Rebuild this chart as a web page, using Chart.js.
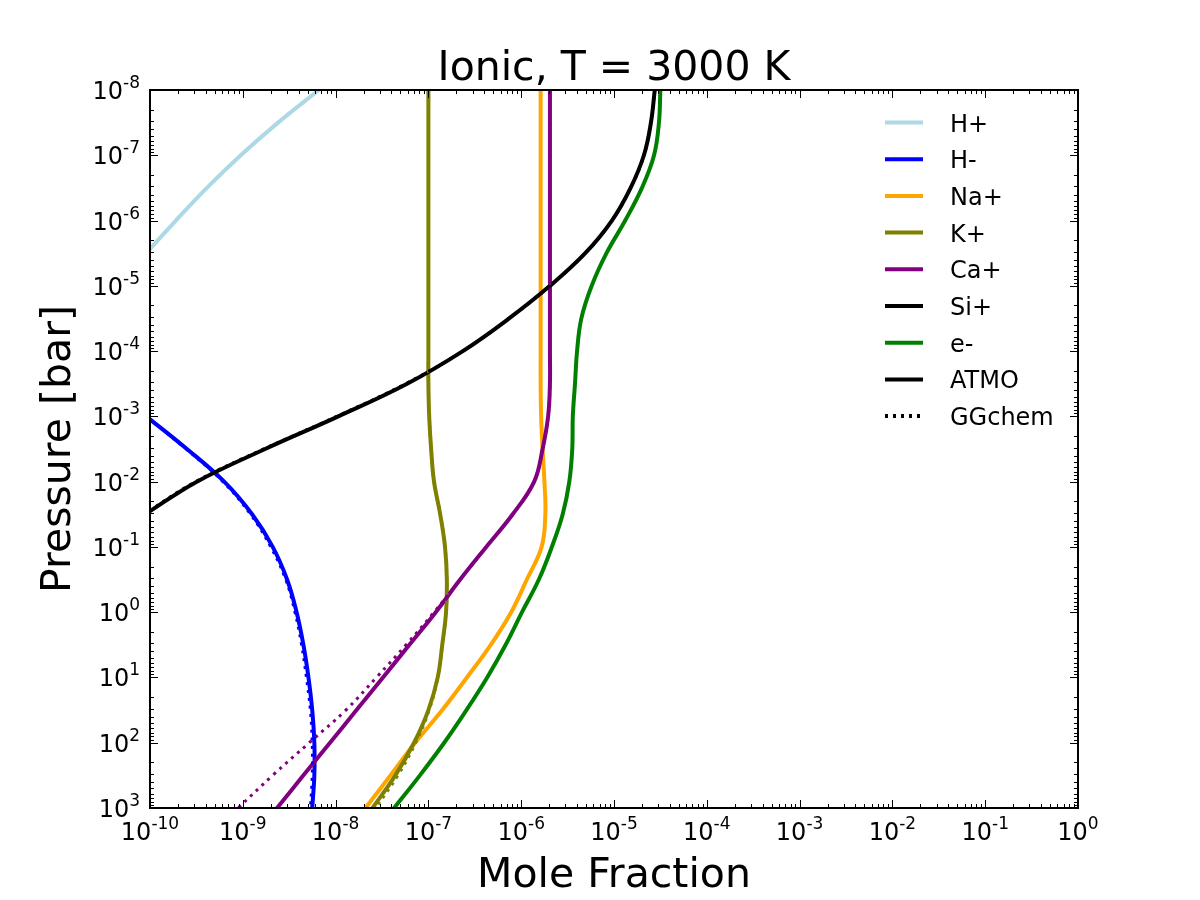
<!DOCTYPE html>
<html lang="en">
<head>
  <meta charset="UTF-8">
  <title>Ionic, T = 3000 K</title>
  <script src="https://cdn.jsdelivr.net/npm/chart.js"></script>
  <style>
    html, body { margin: 0; padding: 0; background: #fff; }
    #wrap { width: 1200px; height: 900px; }
  </style>
</head>
<body>

<div id="wrap"><canvas id="ionChart" width="1200" height="900"></canvas></div>

<script>
  // pressure levels [bar], half-decade steps from 1e-8 to 1e3
  const pressure = [1e-8, 3.16e-8, 1e-7, 3.16e-7, 1e-6, 3.16e-6, 1e-5, 3.16e-5, 1e-4, 3.16e-4,
                    1e-3, 3.16e-3, 1e-2, 3.16e-2, 1e-1, 3.16e-1, 1, 3.16, 10, 31.6, 100, 316, 1000];

  // mole fractions (ATMO, solid lines)
  const hPlus  = [6.6e-9, 2.4e-9, 9.5e-10, 4.1e-10, 1.9e-10, 9.1e-11, 4.5e-11, null, null, null,
                  null, null, null, null, null, null, null, null, null, null, null, null, null];
  const hMinus = [null, null, null, null, null, null, null, null, null, 3.2e-11,
                  9.1e-11, 2.5e-10, 6.3e-10, 1.26e-9, 2.1e-9, 3.0e-9, 3.8e-9, 4.5e-9, 5.1e-9, 5.6e-9, 5.9e-9, 5.9e-9, 5.6e-9];
  const naPlus = [1.62e-6, 1.62e-6, 1.62e-6, 1.62e-6, 1.62e-6, 1.62e-6, 1.62e-6, 1.62e-6, 1.62e-6, 1.62e-6,
                  1.64e-6, 1.70e-6, 1.78e-6, 1.82e-6, 1.66e-6, 1.15e-6, 7.8e-7, 4.7e-7, 2.6e-7, 1.41e-7, 7.2e-8, 3.9e-8, 2.1e-8];
  const kPlus  = [1.0e-7, 1.0e-7, 1.0e-7, 1.0e-7, 1.0e-7, 1.0e-7, 1.0e-7, 1.0e-7, 1.0e-7, 1.0e-7,
                  1.02e-7, 1.07e-7, 1.15e-7, 1.34e-7, 1.51e-7, 1.58e-7, 1.55e-7, 1.41e-7, 1.26e-7, 1.0e-7, 7.0e-8, 4.4e-8, 2.5e-8];
  const caPlus = [2.04e-6, 2.04e-6, 2.04e-6, 2.04e-6, 2.04e-6, 2.04e-6, 2.04e-6, 2.04e-6, 2.04e-6, 2.04e-6,
                  1.95e-6, 1.70e-6, 1.38e-6, 8.1e-7, 4.2e-7, 2.2e-7, 1.20e-7, 6.24e-8, 3.24e-8, 1.68e-8, 8.7e-9, 4.5e-9, 2.34e-9];
  const siPlus = [2.75e-5, 2.5e-5, 2.1e-5, 1.51e-5, 9.5e-6, 4.9e-6, 2.04e-6, 7.4e-7, 2.35e-7, 5.9e-8,
                  1.07e-8, 1.74e-9, 3.2e-10, 8.9e-11, 2.5e-11, null, null, null, null, null, null, null, null];
  const eMinus = [3.16e-5, 3.05e-5, 2.7e-5, 2.0e-5, 1.32e-5, 8.3e-6, 5.75e-6, 4.45e-6, 4.0e-6, 3.8e-6,
                  3.6e-6, 3.55e-6, 3.3e-6, 2.8e-6, 2.14e-6, 1.55e-6, 1.02e-6, 6.8e-7, 4.3e-7, 2.57e-7, 1.48e-7, 8.1e-8, 4.27e-8];

  // GGchem (dotted) where it shows apart from ATMO
  const hMinusGG = [null, null, null, null, null, null, null, null, null, 3.2e-11,
                    9.0e-11, 2.45e-10, 6.1e-10, 1.21e-9, 2.0e-9, 2.9e-9, 3.65e-9, 4.3e-9, 4.85e-9, 5.35e-9, 5.6e-9, 5.6e-9, 5.35e-9];
  const kPlusGG  = [1.0e-7, 1.0e-7, 1.0e-7, 1.0e-7, 1.0e-7, 1.0e-7, 1.0e-7, 1.0e-7, 1.0e-7, 1.0e-7,
                    1.02e-7, 1.07e-7, 1.15e-7, 1.34e-7, 1.51e-7, 1.58e-7, 1.55e-7, 1.41e-7, 1.26e-7, 1.02e-7, 7.3e-8, 4.7e-8, 2.7e-8];
  const caPlusGG = [2.04e-6, 2.04e-6, 2.04e-6, 2.04e-6, 2.04e-6, 2.04e-6, 2.04e-6, 2.04e-6, 2.04e-6, 2.04e-6,
                    1.95e-6, 1.70e-6, 1.38e-6, 8.1e-7, 4.2e-7, 2.2e-7, 1.15e-7, 5.75e-8, 2.75e-8, 1.29e-8, 5.2e-9, 2.1e-9, 8.9e-10];
  const siPlusGG = [2.75e-5, 2.5e-5, 2.1e-5, 1.51e-5, 9.5e-6, 4.9e-6, 2.04e-6, 7.4e-7, 2.35e-7, 5.7e-8,
                    1.03e-8, 1.68e-9, 3.1e-10, 8.6e-11, 2.4e-11, null, null, null, null, null, null, null, null];

  const species = ['H+', 'H-', 'Na+', 'K+', 'Ca+', 'Si+', 'e-'];
  const colors  = ['#add8e6', '#0000ff', '#ffa500', '#808000', '#800080', '#000000', '#008000'];
  const atmo    = [hPlus, hMinus, naPlus, kPlus, caPlus, siPlus, eMinus];

  const xTickExps = [-10, -9, -8, -7, -6, -5, -4, -3, -2, -1, 0];
  const yTickExps = [-8, -7, -6, -5, -4, -3, -2, -1, 0, 1, 2, 3];

  const FONT = '"DejaVu Sans", "Liberation Sans", sans-serif';

  function toPoints(values) {
    const pts = [];
    values.forEach((v, i) => {
      if (v !== null) pts.push({ x: v, y: pressure[i] });
    });
    return pts;
  }

  const datasets = [];
  atmo.forEach((vals, i) => {
    datasets.push({ label: species[i], data: toPoints(vals), borderColor: colors[i], borderWidth: 4 });
  });
  [[hMinusGG, 1], [kPlusGG, 3], [caPlusGG, 4], [siPlusGG, 5]].forEach(([vals, c]) => {
    datasets.push({ label: species[c] + ' GGchem', data: toPoints(vals), borderColor: colors[c],
                    borderWidth: 3, borderDash: [3, 5] });
  });
  datasets.forEach((d, i) => {
    d.order = -i;          // later series drawn on top, as in the original
    d.fill = false;
    d.pointRadius = 0;
    d.clip = 0;
    d.tension = 0.4;
  });

  function drawPow(ctx, exp, x, yBase, align) {
    const base = '10', sup = String(exp);
    ctx.font = '24px ' + FONT;
    const wb = ctx.measureText(base).width;
    ctx.font = '17px ' + FONT;
    const ws = ctx.measureText(sup).width;
    const left = align === 'center' ? x - (wb + ws) / 2 : x - (wb + ws);
    ctx.textAlign = 'left';
    ctx.font = '24px ' + FONT;
    ctx.fillText(base, left, yBase);
    ctx.font = '17px ' + FONT;
    ctx.fillText(sup, left + wb, yBase - 11);
  }

  const frame = {
    id: 'frame',
    afterDraw(chart) {
      const { ctx, chartArea: a, scales: { x, y } } = chart;
      ctx.save();
      ctx.strokeStyle = '#000';
      ctx.fillStyle = '#000';
      ctx.lineWidth = 1;

      // ticks, pointing inwards on all four sides
      ctx.beginPath();
      xTickExps.forEach(e => {
        for (let m = 1; m < 10; m++) {
          const v = m * Math.pow(10, e);
          if (v > 1.0000001) break;
          const px = Math.round(x.getPixelForValue(v)) + 0.5;
          const len = m === 1 ? 8 : 4;
          ctx.moveTo(px, a.bottom); ctx.lineTo(px, a.bottom - len);
          ctx.moveTo(px, a.top); ctx.lineTo(px, a.top + len);
        }
      });
      yTickExps.forEach(e => {
        for (let m = 1; m < 10; m++) {
          const v = m * Math.pow(10, e);
          if (v > 1000.0001) break;
          const py = Math.round(y.getPixelForValue(v)) + 0.5;
          const len = m === 1 ? 8 : 4;
          ctx.moveTo(a.left, py); ctx.lineTo(a.left + len, py);
          ctx.moveTo(a.right, py); ctx.lineTo(a.right - len, py);
        }
      });
      ctx.stroke();

      ctx.lineWidth = 2;
      ctx.strokeRect(a.left, a.top, a.right - a.left, a.bottom - a.top);

      // tick labels
      ctx.textBaseline = 'alphabetic';
      xTickExps.forEach(e => drawPow(ctx, e, x.getPixelForValue(Math.pow(10, e)), a.bottom + 32, 'center'));
      yTickExps.forEach(e => drawPow(ctx, e, a.left - 10, y.getPixelForValue(Math.pow(10, e)) + 9, 'right'));

      // title and axis titles
      ctx.textAlign = 'center';
      ctx.font = '41px ' + FONT;
      const cx = (a.left + a.right) / 2;
      ctx.fillText('Ionic, T = 3000 K', cx, 80);
      ctx.fillText('Mole Fraction', cx, 887);
      ctx.save();
      ctx.translate(70, (a.top + a.bottom) / 2);
      ctx.rotate(-Math.PI / 2);
      ctx.fillText('Pressure [bar]', 0, 0);
      ctx.restore();

      // legend inside the axes, upper right
      const entries = species.map((s, i) => ({ text: s, color: colors[i], dash: [] }));
      entries.push({ text: 'ATMO', color: '#000', dash: [] });
      entries.push({ text: 'GGchem', color: '#000', dash: [3, 5] });
      ctx.font = '24px ' + FONT;
      ctx.textAlign = 'left';
      entries.forEach((en, i) => {
        const ly = 122.5 + i * 36.7;
        ctx.strokeStyle = en.color;
        ctx.lineWidth = 4;
        ctx.setLineDash(en.dash);
        ctx.beginPath();
        ctx.moveTo(885, ly); ctx.lineTo(923, ly);
        ctx.stroke();
        ctx.setLineDash([]);
        ctx.fillText(en.text, 950, ly + 9);
      });
      ctx.restore();
    }
  };

  new Chart(document.getElementById('ionChart').getContext('2d'), {
    type: 'line',
    data: { datasets: datasets },
    options: {
      responsive: false,
      animation: false,
      layout: { padding: { left: 150, right: 122, top: 90, bottom: 92 } },
      plugins: { legend: { display: false }, tooltip: { enabled: false } },
      elements: { line: { capBezierPoints: false }, point: { radius: 0 } },
      scales: {
        x: { type: 'logarithmic', min: 1e-10, max: 1, display: false },
        y: { type: 'logarithmic', min: 1e-8, max: 1e3, reverse: true, display: false }
      }
    },
    plugins: [frame]
  });
</script>

</body>
</html>
